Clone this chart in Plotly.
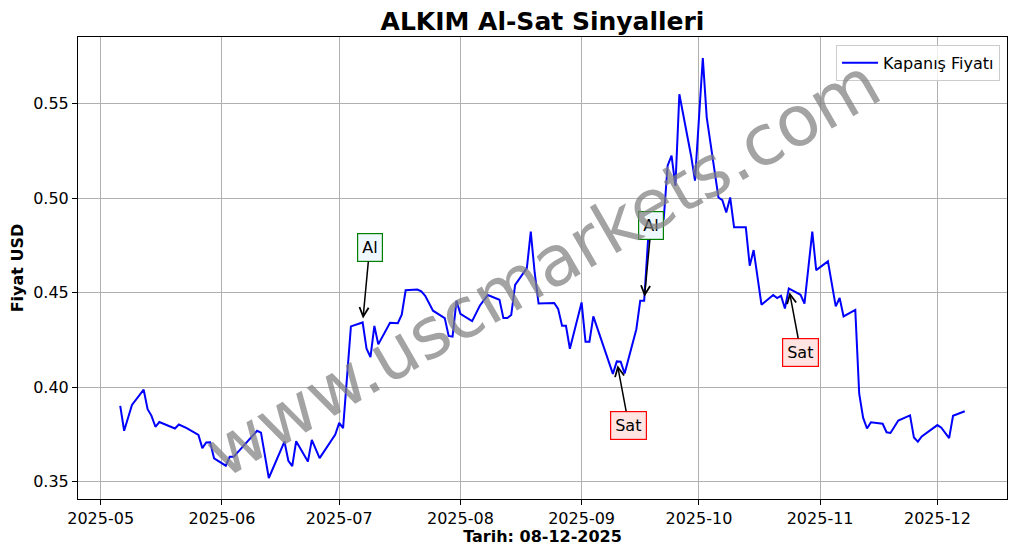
import plotly.graph_objects as go
import pandas as pd

dates = [
    "2025-05-06", "2025-05-07", "2025-05-09", "2025-05-12", "2025-05-13", "2025-05-14", "2025-05-15", "2025-05-16",
    "2025-05-20", "2025-05-21", "2025-05-23", "2025-05-26", "2025-05-27", "2025-05-28", "2025-05-29", "2025-05-30",
    "2025-06-02", "2025-06-03", "2025-06-04", "2025-06-10", "2025-06-11", "2025-06-13", "2025-06-17", "2025-06-18",
    "2025-06-19", "2025-06-20", "2025-06-23", "2025-06-24", "2025-06-26", "2025-06-30",
    "2025-07-01", "2025-07-02", "2025-07-04", "2025-07-07", "2025-07-08", "2025-07-09", "2025-07-10", "2025-07-11",
    "2025-07-14", "2025-07-16", "2025-07-17", "2025-07-18", "2025-07-21", "2025-07-22", "2025-07-23", "2025-07-24",
    "2025-07-25", "2025-07-28", "2025-07-29", "2025-07-30", "2025-07-31",
    "2025-08-01", "2025-08-04", "2025-08-06", "2025-08-08", "2025-08-11", "2025-08-12", "2025-08-13", "2025-08-14",
    "2025-08-15", "2025-08-18", "2025-08-19", "2025-08-20", "2025-08-21", "2025-08-22", "2025-08-25", "2025-08-26",
    "2025-08-27", "2025-08-28", "2025-08-29",
    "2025-09-01", "2025-09-02", "2025-09-03", "2025-09-04", "2025-09-09", "2025-09-10", "2025-09-11", "2025-09-12",
    "2025-09-15", "2025-09-16", "2025-09-17", "2025-09-18", "2025-09-19", "2025-09-22", "2025-09-23", "2025-09-24",
    "2025-09-25", "2025-09-26", "2025-09-29", "2025-09-30",
    "2025-10-02", "2025-10-03", "2025-10-06", "2025-10-07", "2025-10-08", "2025-10-09", "2025-10-10", "2025-10-13",
    "2025-10-14", "2025-10-15", "2025-10-17", "2025-10-20", "2025-10-21", "2025-10-22", "2025-10-23", "2025-10-24",
    "2025-10-27", "2025-10-28", "2025-10-30", "2025-10-31",
    "2025-11-03", "2025-11-04", "2025-11-05", "2025-11-06", "2025-11-07", "2025-11-10", "2025-11-11", "2025-11-12",
    "2025-11-13", "2025-11-14", "2025-11-17", "2025-11-18", "2025-11-19", "2025-11-21", "2025-11-24", "2025-11-25",
    "2025-11-26", "2025-11-27",
    "2025-12-01", "2025-12-02", "2025-12-04", "2025-12-05", "2025-12-08",
]

close = [
    0.3902, 0.3770, 0.3907, 0.3987, 0.3884, 0.3849, 0.3791, 0.3816,
    0.3782, 0.3803, 0.3784, 0.3748, 0.3678, 0.3708, 0.3709, 0.3624,
    0.3585, 0.3632, 0.3632, 0.3770, 0.3760, 0.3520, 0.3713, 0.3611,
    0.3583, 0.3715, 0.3607, 0.3722, 0.3625, 0.3750,
    0.3812, 0.3784, 0.4322, 0.4343, 0.4204, 0.4160, 0.4325, 0.4227,
    0.4341, 0.4339, 0.4384, 0.4513, 0.4517, 0.4508, 0.4484, 0.4447,
    0.4405, 0.4366, 0.4272, 0.4268, 0.4458,
    0.4389, 0.4350, 0.4433, 0.4488, 0.4463, 0.4366, 0.4366, 0.4382,
    0.4542, 0.4630, 0.4823, 0.4606, 0.4443, 0.4444, 0.4446, 0.4415,
    0.4325, 0.4325, 0.4204,
    0.4449, 0.4241, 0.4241, 0.4375, 0.4071, 0.4137, 0.4135, 0.4073,
    0.4307, 0.4458, 0.4458, 0.4780, 0.4820, 0.4890, 0.5172, 0.5225,
    0.5066, 0.5550, 0.5225, 0.5093,
    0.5742, 0.5428, 0.5004, 0.4990, 0.4925, 0.5004, 0.4846, 0.4846,
    0.4643, 0.4726, 0.4437, 0.4488, 0.4472, 0.4484, 0.4417, 0.4523,
    0.4489, 0.4443, 0.4823, 0.4620,
    0.4666, 0.4537, 0.4428, 0.4472, 0.4375, 0.4409, 0.3966, 0.3839,
    0.3782, 0.3815, 0.3807, 0.3762, 0.3758, 0.3824, 0.3851, 0.3734,
    0.3712, 0.3740,
    0.3800, 0.3786, 0.3731, 0.3849, 0.3873,
]

buy_dates = ["2025-07-07", "2025-09-17"]
sell_dates = ["2025-09-10", "2025-10-24"]

title_text = "ALKIM Al-Sat Sinyalleri"
x_title = "Tarih: 08-12-2025"
y_title = "Fiyat USD"
legend_name = "Kapanış Fiyatı"
watermark = "www.uscmarkets.com"

FONT = "DejaVu Sans"

s = pd.Series(close, index=pd.to_datetime(dates))

fig = go.Figure()
fig.add_trace(go.Scatter(
    x=s.index, y=s.values, mode="lines", name=legend_name,
    line=dict(color="#0000ff", width=2),
))

annotations = []
for d in buy_dates:
    t = pd.Timestamp(d)
    annotations.append(dict(
        x=t, y=float(s[t]), xref="x", yref="y", text="Al",
        showarrow=True, arrowhead=5, arrowsize=1.2, arrowwidth=1.5, arrowcolor="black",
        ax=7, ay=-75, standoff=4,
        bgcolor="#f0f8ff", bordercolor="green", borderwidth=1.2, borderpad=4,
        font=dict(family=FONT, size=16, color="black"),
    ))
for d in sell_dates:
    t = pd.Timestamp(d)
    annotations.append(dict(
        x=t, y=float(s[t]), xref="x", yref="y", text="Sat",
        showarrow=True, arrowhead=5, arrowsize=1.2, arrowwidth=1.5, arrowcolor="black",
        ax=12, ay=64, standoff=4,
        bgcolor="#ffe4e1", bordercolor="red", borderwidth=1.2, borderpad=4,
        font=dict(family=FONT, size=16, color="black"),
    ))
annotations.append(dict(
    x=0.5, y=0.5, xref="paper", yref="paper", text=watermark, showarrow=False,
    textangle=-30, font=dict(family=FONT, size=70, color="rgba(128,128,128,0.72)"),
    xanchor="center", yanchor="middle",
))

xmin, xmax = s.index.min(), s.index.max()
xpad = (xmax - xmin) * 0.05
ymin, ymax = min(close), max(close)
ypad = (ymax - ymin) * 0.05

# page body adds an 8px offset; figure sized so the plot area lands where the reference has it
fig.update_layout(
    width=1001, height=538,
    margin=dict(l=70, r=2, t=29, b=47),
    paper_bgcolor="white", plot_bgcolor="white",
    font=dict(family=FONT, size=16, color="black"),
    title=dict(text="<b>" + title_text + "</b>", x=0.5, xref="paper", xanchor="center",
               y=1 - 13 / 538, yref="container", yanchor="middle",
               font=dict(family=FONT, size=25, color="black")),
    showlegend=True,
    legend=dict(x=0.9925, y=0.983, xanchor="right", yanchor="top",
                bgcolor="rgba(255,255,255,0.8)", bordercolor="#cccccc", borderwidth=1,
                itemwidth=36, font=dict(family=FONT, size=16)),
    annotations=annotations,
)
fig.update_xaxes(
    range=[xmin - xpad, xmax + xpad], type="date",
    tick0="2025-05-01", dtick="M1", tickformat="%Y-%m",
    showgrid=True, gridcolor="#b0b0b0", gridwidth=1,
    showline=True, linecolor="black", linewidth=1, mirror=True,
    ticks="outside", ticklen=5, tickcolor="black",
    tickfont=dict(family=FONT, size=16),
    title=dict(text="<b>" + x_title + "</b>", font=dict(family=FONT, size=16), standoff=4),
    zeroline=False,
)
fig.update_yaxes(
    range=[ymin - ypad, ymax + ypad],
    dtick=0.05, tick0=0.35, tickformat=".2f",
    showgrid=True, gridcolor="#b0b0b0", gridwidth=1,
    showline=True, linecolor="black", linewidth=1, mirror=True,
    ticks="outside", ticklen=5, tickcolor="black",
    tickfont=dict(family=FONT, size=16),
    title=dict(text="<b>" + y_title + "</b>", font=dict(family=FONT, size=16), standoff=8),
    zeroline=False,
)

fig.write_html("out.html")
